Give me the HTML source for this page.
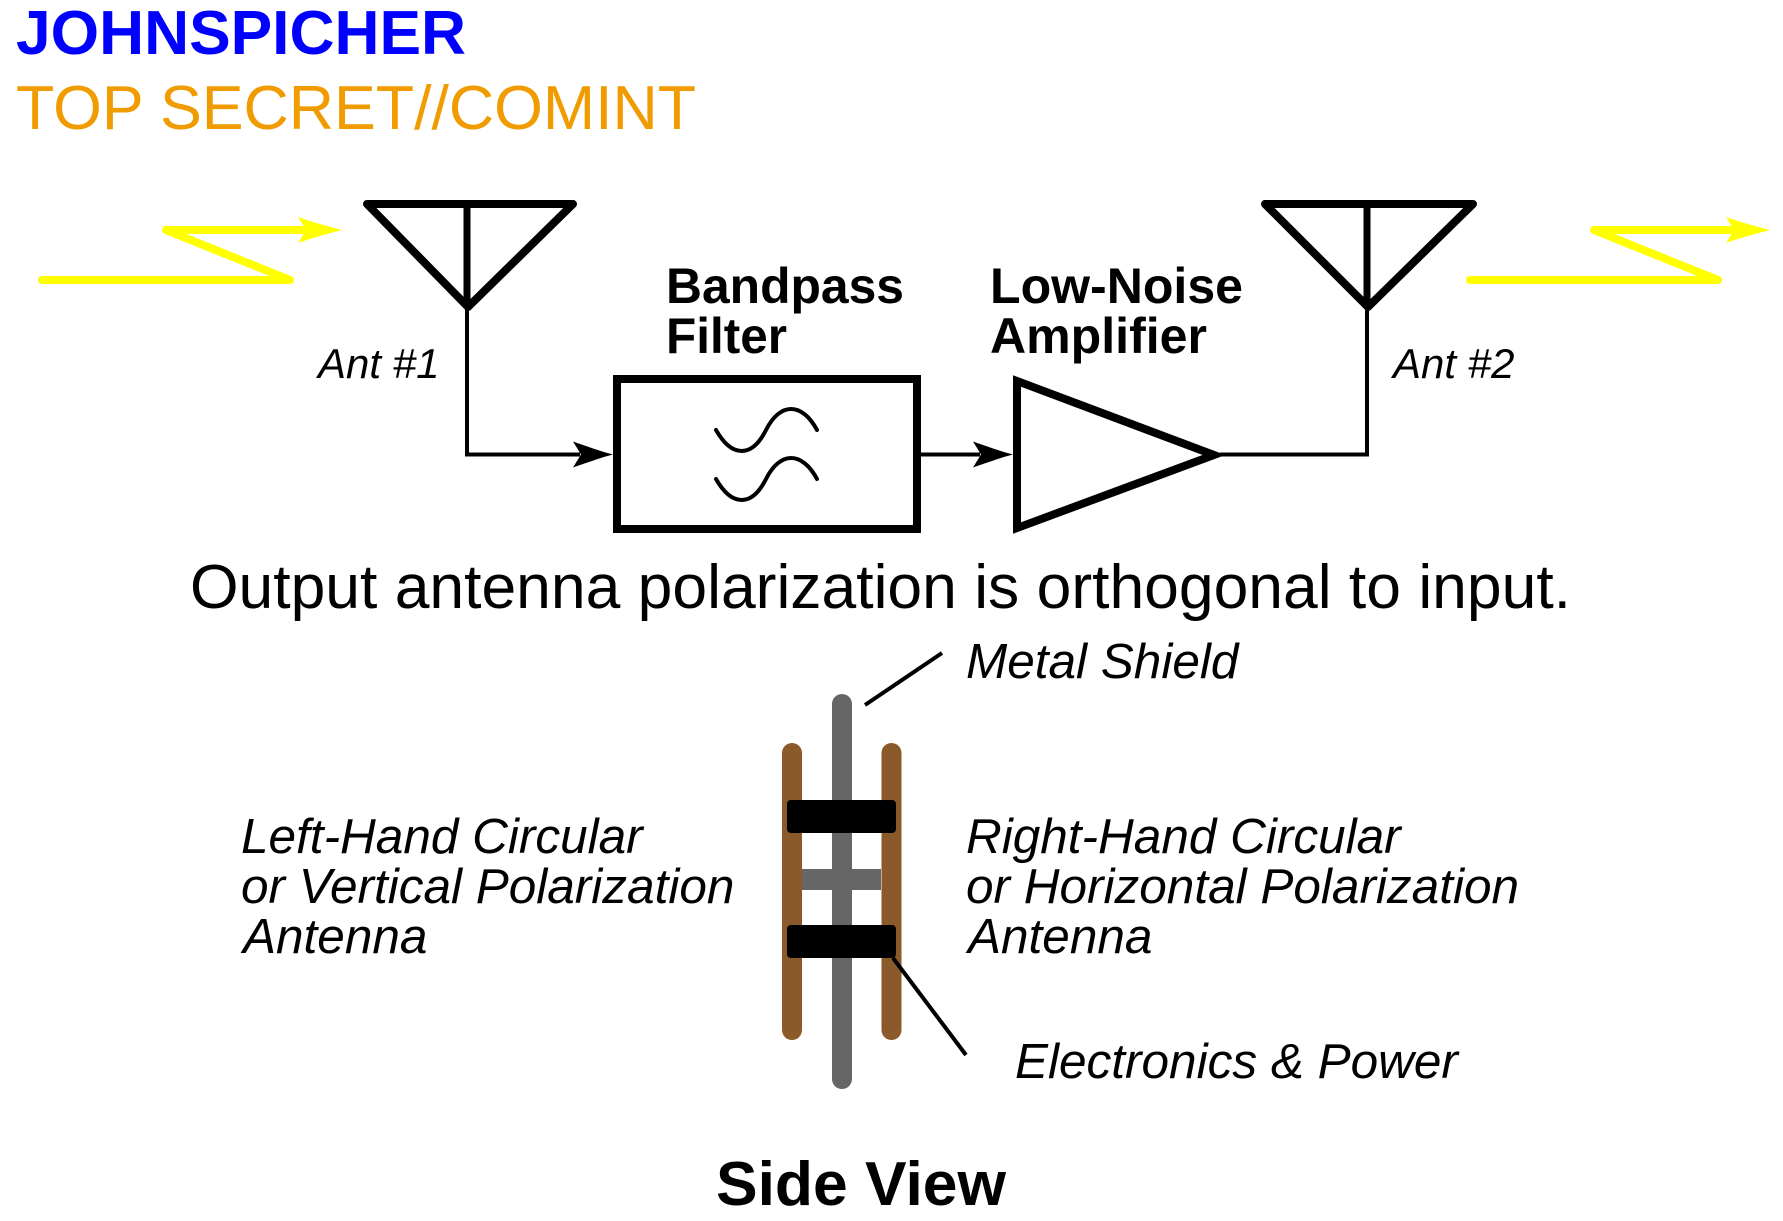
<!DOCTYPE html>
<html>
<head>
<meta charset="utf-8">
<style>
  html, body { margin: 0; padding: 0; background: #ffffff; }
  svg { display: block; }
  text { font-family: "Liberation Sans", Arial, Helvetica, sans-serif; }
</style>
</head>
<body>
<svg width="1783" height="1221" viewBox="0 0 1783 1221" xmlns="http://www.w3.org/2000/svg">
  <rect x="0" y="0" width="1783" height="1221" fill="#ffffff"/>

  <!-- Header -->
  <text x="16" y="54" font-size="62" font-weight="bold" fill="#0000ff" textLength="450" lengthAdjust="spacingAndGlyphs">JOHNSPICHER</text>
  <text x="16" y="129" font-size="62" fill="#f09b00" textLength="680" lengthAdjust="spacingAndGlyphs">TOP SECRET//COMINT</text>

  <!-- Left lightning -->
  <polyline points="42,280 290,280 166,230 302,230" fill="none" stroke="#ffff00" stroke-width="8" stroke-linecap="round" stroke-linejoin="round"/>
  <path d="M342,230 C330,227 312,222 298,217 L306,230 L298,243 C312,238 330,233 342,230 Z" fill="#ffff00"/>

  <!-- Right lightning -->
  <polyline points="1470,280 1718,280 1594,230 1730,230" fill="none" stroke="#ffff00" stroke-width="8" stroke-linecap="round" stroke-linejoin="round"/>
  <path d="M1770,230 C1758,227 1740,222 1726,217 L1734,230 L1726,243 C1740,238 1758,233 1770,230 Z" fill="#ffff00"/>

  <!-- Antenna 1 -->
  <polygon points="367,204 573,204 468,307" fill="none" stroke="#000" stroke-width="8" stroke-linejoin="round"/>
  <line x1="467" y1="204" x2="467" y2="307" stroke="#000" stroke-width="7"/>
  <polyline points="467,307 467,454.5 580,454.5" fill="none" stroke="#000" stroke-width="4"/>
  <path d="M613,454.5 C601,451.5 586,446 573,441.5 L581,454.5 L573,467.5 C586,463 601,457.5 613,454.5 Z" fill="#000"/>
  <text x="318" y="378" font-size="42" font-style="italic" fill="#000">Ant #1</text>

  <!-- Bandpass Filter -->
  <text x="666" y="303" font-size="50" font-weight="bold" fill="#000" textLength="238" lengthAdjust="spacingAndGlyphs">Bandpass</text>
  <text x="666" y="353" font-size="50" font-weight="bold" fill="#000" textLength="121" lengthAdjust="spacingAndGlyphs">Filter</text>
  <rect x="617" y="379" width="300" height="150" fill="none" stroke="#000" stroke-width="8"/>
  <path d="M716,430 C732,458 752,458 766,430 C780,402 802,402 817,430" fill="none" stroke="#000" stroke-width="4" stroke-linecap="round"/>
  <path d="M716,479 C732,507 752,507 766,479 C780,451 802,451 817,479" fill="none" stroke="#000" stroke-width="4" stroke-linecap="round"/>

  <!-- Box to amp connector -->
  <line x1="921" y1="454.5" x2="980" y2="454.5" stroke="#000" stroke-width="4"/>
  <path d="M1013,454.5 C1001,451.5 986,446 973,441.5 L981,454.5 L973,467.5 C986,463 1001,457.5 1013,454.5 Z" fill="#000"/>

  <!-- Amplifier -->
  <text x="990" y="303" font-size="50" font-weight="bold" fill="#000" textLength="253" lengthAdjust="spacingAndGlyphs">Low-Noise</text>
  <text x="990" y="353" font-size="50" font-weight="bold" fill="#000" textLength="217" lengthAdjust="spacingAndGlyphs">Amplifier</text>
  <polygon points="1017,381 1214,455 1017,528" fill="none" stroke="#000" stroke-width="8" stroke-linejoin="miter" stroke-miterlimit="4"/>

  <!-- Amp to Antenna 2 -->
  <polyline points="1220,454.5 1367,454.5 1367,307" fill="none" stroke="#000" stroke-width="4"/>

  <!-- Antenna 2 -->
  <polygon points="1265,204 1473,204 1368,307" fill="none" stroke="#000" stroke-width="8" stroke-linejoin="round"/>
  <line x1="1367" y1="204" x2="1367" y2="307" stroke="#000" stroke-width="7"/>
  <text x="1393" y="378" font-size="42" font-style="italic" fill="#000">Ant #2</text>

  <!-- Caption -->
  <text x="190" y="608" font-size="62" fill="#000" textLength="1381" lengthAdjust="spacingAndGlyphs">Output antenna polarization is orthogonal to input.</text>

  <!-- Side view device -->
  <rect x="802" y="869" width="79" height="21" fill="#666666"/>
  <line x1="842" y1="704" x2="842" y2="1079" stroke="#666666" stroke-width="20" stroke-linecap="round"/>
  <line x1="792" y1="753" x2="792" y2="1030" stroke="#8b5a2b" stroke-width="20" stroke-linecap="round"/>
  <line x1="891.5" y1="753" x2="891.5" y2="1030" stroke="#8b5a2b" stroke-width="20" stroke-linecap="round"/>
  <rect x="787" y="800" width="109" height="33" rx="4" ry="4" fill="#000"/>
  <rect x="787" y="925" width="109" height="33" rx="4" ry="4" fill="#000"/>

  <!-- Leaders -->
  <line x1="865" y1="705" x2="942" y2="653" stroke="#000" stroke-width="4"/>
  <line x1="893" y1="958" x2="966" y2="1055" stroke="#000" stroke-width="4"/>

  <!-- Side view labels -->
  <text x="966" y="678" font-size="49.5" font-style="italic" fill="#000">Metal Shield</text>

  <text x="241" y="853" font-size="49.5" font-style="italic" fill="#000">Left-Hand Circular</text>
  <text x="241" y="903" font-size="49.5" font-style="italic" fill="#000">or Vertical Polarization</text>
  <text x="243" y="953" font-size="49.5" font-style="italic" fill="#000">Antenna</text>

  <text x="966" y="853" font-size="49.5" font-style="italic" fill="#000">Right-Hand Circular</text>
  <text x="966" y="903" font-size="49.5" font-style="italic" fill="#000">or Horizontal Polarization</text>
  <text x="968" y="953" font-size="49.5" font-style="italic" fill="#000">Antenna</text>

  <text x="1015" y="1078" font-size="49.5" font-style="italic" fill="#000">Electronics &amp; Power</text>

  <text x="716" y="1205" font-size="62" font-weight="bold" fill="#000" textLength="290" lengthAdjust="spacingAndGlyphs">Side View</text>
</svg>
</body>
</html>
